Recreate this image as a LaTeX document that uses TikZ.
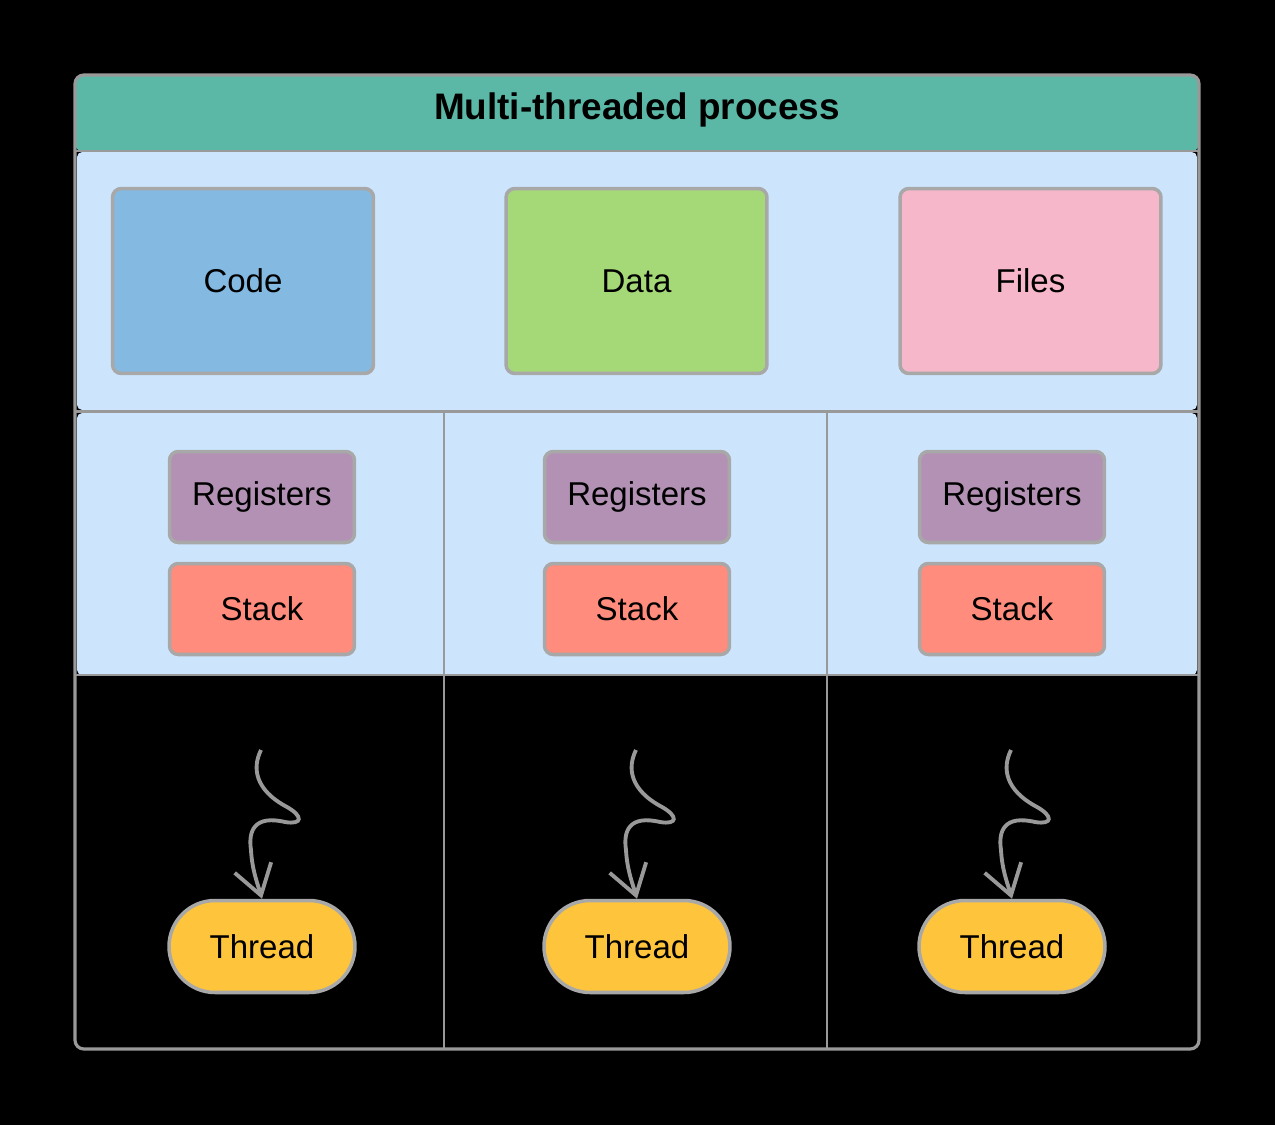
\documentclass[tikz,border=0pt]{standalone}
\usepackage{fontspec}
\setmainfont{Liberation Sans}
\usetikzlibrary{arrows.meta}

\definecolor{headgreen}{HTML}{5BB8A6}
\definecolor{areablue}{HTML}{CCE5FD}
\definecolor{codeblue}{HTML}{84B9E2}
\definecolor{datagreen}{HTML}{A5D977}
\definecolor{filespink}{HTML}{F5B7C9}
\definecolor{regpurple}{HTML}{B291B5}
\definecolor{stackred}{HTML}{FF8C7C}
\definecolor{threadyellow}{HTML}{FDC43C}
\definecolor{boxgray}{HTML}{A8A8A8}
\definecolor{framegray}{HTML}{999999}

\tikzset{
  box/.style={draw=boxgray, line width=2pt, rounded corners=5pt, inner sep=0pt,
    font=\fontsize{18.8}{22}\selectfont},
  sharedbox/.style={box, minimum width=5.22cm, minimum height=3.7cm},
  threadpart/.style={box, minimum width=3.7cm, minimum height=1.82cm},
  threadbox/.style={box, fill=threadyellow, minimum width=3.72cm, minimum height=1.84cm,
    rounded corners=0.92cm},
  wavy/.style={draw=framegray, line width=2.2pt,
    -{Straight Barb[length=0.58cm, width=0.76cm]}}
}

\begin{document}
\begin{tikzpicture}[x=0.02cm, y=-0.02cm]
\fill[black] (0,0) rectangle (1275,1125);
\useasboundingbox (0,0) rectangle (1275,1125);

% header and the two areas
\fill[headgreen, rounded corners=5pt] (75,75) rectangle (1199,152);
\fill[areablue, rounded corners=3pt] (77,152) rectangle (1197,410);
\fill[areablue, rounded corners=3pt] (77,413) rectangle (1197,675);
\node[font=\bfseries\fontsize{21}{25}\selectfont] (title) at (637,110) {Multi-threaded process};

% dividing lines
\draw[framegray, line width=1.7pt] (75,151) -- (1199,151);
\draw[framegray, line width=1.7pt] (75,411.5) -- (1199,411.5);
\draw[framegray, line width=1.2pt] (75,675) -- (1199,675);
\draw[framegray, line width=1.2pt] (444,411) -- (444,1049);
\draw[framegray, line width=1.2pt] (827,411) -- (827,1049);
\draw[framegray, line width=1.8pt, rounded corners=5pt] (75,75) rectangle (1199,1049);

% shared by all threads
\node[sharedbox, fill=codeblue] (code) at (243,281) {Code};
\node[sharedbox, fill=datagreen] (data) at (636.5,281) {Data};
\node[sharedbox, fill=filespink] (files) at (1030.5,281) {Files};

% one column for each thread
\foreach \x/\n in {262/a, 637/b, 1012/c} {
  \node[threadpart, fill=regpurple] (reg\n) at (\x,497) {Registers};
  \node[threadpart, fill=stackred] (stack\n) at (\x,609) {Stack};
  \node[threadbox] (thread\n) at (\x,946.5) {Thread};
  \coordinate (start\n) at (\x-1,750);
  \draw[wavy] (start\n) .. controls (\x-10,768) and (\x-7,790) .. (\x+25,807)
    .. controls (\x+41,816) and (\x+41,825) .. (\x+23,822)
    .. controls (\x-7,815) and (\x-14,830) .. (\x-11,850)
    .. controls (\x-10,870) and (\x-4,885) .. (thread\n.north);
}
\end{tikzpicture}
\end{document}
